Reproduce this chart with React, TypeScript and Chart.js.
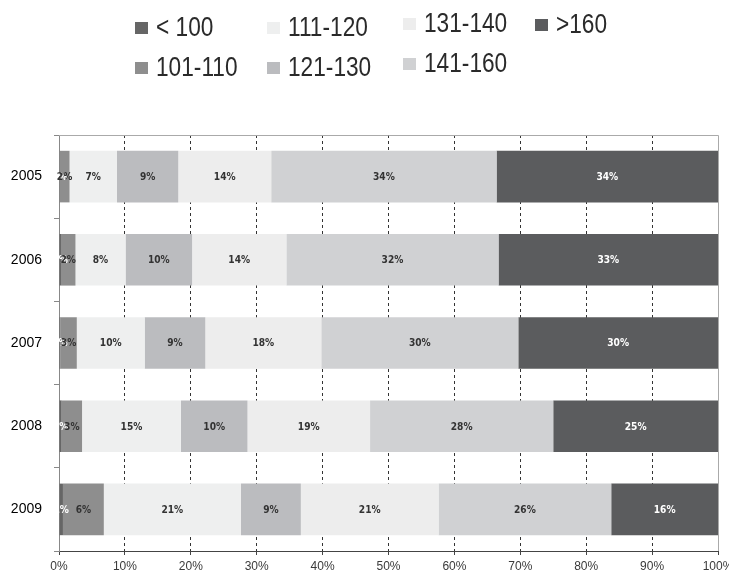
import React, { useEffect, useRef } from "react";
import { Chart, registerables } from "chart.js";

Chart.register(...registerables);

// Years, top to bottom
const years = ["2005", "2006", "2007", "2008", "2009"];

// Share of each class per year (%)
const under100 = [0.1, 0.3, 0.2, 0.4, 0.6];
const r101to110 = [1.5, 2.2, 2.5, 3.1, 6.2];
const r111to120 = [7.2, 7.6, 10.3, 15.0, 20.8];
const r121to130 = [9.3, 10.1, 9.2, 10.1, 9.1];
const r131to140 = [14.1, 14.3, 17.6, 18.6, 20.9];
const r141to160 = [34.2, 32.2, 29.9, 27.8, 26.2];
const over160 = [33.6, 33.3, 30.3, 25.0, 16.2];

const seriesNames = ["< 100", "101-110", "111-120", "121-130", "131-140", "141-160", ">160"];
const seriesValues = [under100, r101to110, r111to120, r121to130, r131to140, r141to160, over160];
const seriesColors = ["#666666", "#8e8e8e", "#eeefef", "#bbbcbf", "#ededed", "#d0d1d3", "#5b5c5e"];
const labelColors = ["#ffffff", "#333333", "#333333", "#333333", "#333333", "#333333", "#ffffff"];

const xTickValues = [0, 10, 20, 30, 40, 50, 60, 70, 80, 90, 100];

const CONDENSED = '"DejaVu Sans Condensed", "Liberation Sans", sans-serif';
const ARIAL = '"Liberation Sans", Arial, sans-serif';

// Percentage text centred on every bar segment
const segmentLabels = {
  id: "segmentLabels",
  afterDatasetsDraw(chart: any) {
    const { ctx } = chart;
    ctx.save();
    ctx.font = `bold 11px ${CONDENSED}`;
    ctx.textAlign = "center";
    ctx.textBaseline = "middle";
    chart.data.datasets.forEach((ds: any, di: number) => {
      const meta = chart.getDatasetMeta(di);
      meta.data.forEach((el: any, i: number) => {
        const v = ds.data[i] as number;
        const { x, y, base } = el.getProps(["x", "y", "base"], true);
        ctx.save();
        ctx.translate((x + base) / 2, y + 0.5);
        ctx.scale(0.92, 1);
        ctx.fillStyle = labelColors[di];
        ctx.fillText(Math.round(v) + "%", 0, 0);
        ctx.restore();
      });
    });
    ctx.restore();
  },
};

// Light frame along the top and right of the plot area
const plotFrame = {
  id: "plotFrame",
  beforeDatasetsDraw(chart: any) {
    const { ctx, chartArea } = chart;
    ctx.save();
    ctx.strokeStyle = "#aaaaaa";
    ctx.lineWidth = 1;
    ctx.beginPath();
    ctx.moveTo(chartArea.left, Math.round(chartArea.top) + 0.5);
    ctx.lineTo(Math.round(chartArea.right) + 0.5, Math.round(chartArea.top) + 0.5);
    ctx.lineTo(Math.round(chartArea.right) + 0.5, chartArea.bottom);
    ctx.stroke();
    ctx.restore();
  },
};

// Two-row legend laid out column by column, with tall narrow lettering
const gridLegend = {
  id: "gridLegend",
  afterDraw(chart: any, _args: any, opts: any) {
    const { ctx } = chart;
    ctx.save();
    ctx.font = opts.font;
    ctx.textAlign = "left";
    ctx.textBaseline = "alphabetic";
    chart.data.datasets.forEach((ds: any, i: number) => {
      const col = opts.columns[Math.floor(i / opts.rows.length)];
      const baseline = opts.rows[i % opts.rows.length] + col.dy;
      ctx.fillStyle = ds.backgroundColor;
      ctx.fillRect(col.x, baseline - 14, opts.boxWidth, opts.boxHeight);
      ctx.save();
      ctx.translate(col.x + opts.boxWidth + opts.gap, baseline);
      ctx.scale(opts.textScaleX, 1);
      ctx.fillStyle = opts.color;
      ctx.fillText(ds.label, 0, 0);
      ctx.restore();
    });
    ctx.restore();
  },
};

export default function App() {
  const canvasRef = useRef<HTMLCanvasElement | null>(null);

  useEffect(() => {
    const canvas = canvasRef.current;
    if (!canvas) return;
    const chart = new Chart(canvas, {
      type: "bar",
      data: {
        labels: years,
        datasets: seriesNames.map((name, i) => ({
          label: name,
          data: seriesValues[i],
          backgroundColor: seriesColors[i],
          borderWidth: 0,
          barPercentage: 0.62,
          categoryPercentage: 1,
        })),
      },
      options: {
        indexAxis: "y",
        responsive: false,
        animation: false,
        layout: { padding: { top: 135, right: 11, left: 0, bottom: 0 } },
        plugins: {
          legend: { display: false },
          tooltip: { enabled: false },
          gridLegend: {
            font: `27px ${ARIAL}`,
            color: "#2a2a2a",
            textScaleX: 0.84,
            boxWidth: 13,
            boxHeight: 12,
            gap: 8,
            rows: [36, 76],
            columns: [
              { x: 135, dy: 0 },
              { x: 267, dy: 0 },
              { x: 403, dy: -4 },
              { x: 535, dy: -3 },
            ],
          },
        } as any,
        scales: {
          x: {
            stacked: true,
            min: 0,
            max: 100,
            afterFit: (scale: any) => {
              scale.height = 22;
              scale.paddingLeft = 0;
              scale.paddingRight = 0;
            },
            afterBuildTicks: (scale: any) => {
              scale.ticks = xTickValues.map((v) => ({ value: v }));
            },
            ticks: {
              callback: (v: any) => v + "%",
              font: { family: ARIAL, size: 12 },
              color: "#3a3a3a",
              padding: 4,
              maxRotation: 0,
              autoSkip: false,
            },
            grid: {
              color: (ctx: any) =>
                ctx.tick && (ctx.tick.value === 0 || ctx.tick.value === 100) ? "rgba(0,0,0,0)" : "#333333",
              tickColor: "#444444",
              tickLength: 4,
              tickBorderDash: [],
              lineWidth: 1,
            },
            border: { color: "#444444", width: 1, dash: [3, 3] },
          },
          y: {
            stacked: true,
            afterFit: (scale: any) => {
              scale.width = 59;
            },
            ticks: {
              font: { family: ARIAL, size: 14 },
              color: "#000000",
              padding: 12,
            },
            grid: {
              drawOnChartArea: false,
              color: "#888888",
              tickLength: 5,
            },
            border: { color: "#888888", width: 1 },
          },
        },
      },
      plugins: [plotFrame, segmentLabels, gridLegend],
    });
    return () => chart.destroy();
  }, []);

  return (
    <div style={{ position: "absolute", left: 0, top: 0, width: 729, height: 573, background: "#ffffff" }}>
      <canvas ref={canvasRef} width={729} height={573} />
    </div>
  );
}
